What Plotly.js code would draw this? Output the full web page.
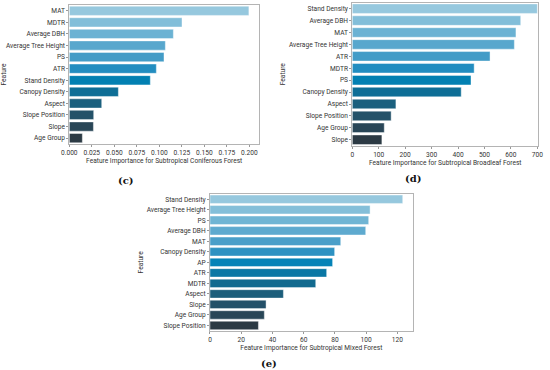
<!DOCTYPE html>
<html>
<head>
<meta charset="utf-8">
<script src="https://cdn.plot.ly/plotly-3.0.1.min.js"></script>
<style>html,body{margin:0;padding:0;background:#fff;}#chart{width:550px;height:370px;}</style>
</head>
<body>
<div id="chart"></div>
<script>
// Panel (c): Subtropical Coniferous Forest
const featuresC = ["MAT", "MDTR", "Average DBH", "Average Tree Height", "PS", "ATR", "Stand Density", "Canopy Density", "Aspect", "Slope Position", "Slope", "Age Group"];
const valuesC = [0.1995, 0.1252, 0.1156, 0.1067, 0.1052, 0.0967, 0.0900, 0.0545, 0.0360, 0.0271, 0.0268, 0.0145];

// Panel (d): Subtropical Broadleaf Forest
const featuresD = ["Stand Density", "Average DBH", "MAT", "Average Tree Height", "ATR", "MDTR", "PS", "Canopy Density", "Aspect", "Slope Position", "Age Group", "Slope"];
const valuesD = [700, 637, 619, 613, 521, 461, 449, 412, 165, 147, 121, 112];

// Panel (e): Subtropical Mixed Forest
const featuresE = ["Stand Density", "Average Tree Height", "PS", "Average DBH", "MAT", "Canopy Density", "AP", "ATR", "MDTR", "Aspect", "Slope", "Age Group", "Slope Position"];
const valuesE = [123.4, 102.5, 101.6, 99.7, 83.7, 79.8, 78.5, 74.7, 67.7, 47.0, 35.9, 34.8, 31.0];

const panelLabels = ["(c)", "(d)", "(e)"];
const xTitles = ["Feature Importance for Subtropical Coniferous Forest",
                 "Feature Importance for Subtropical Broadleaf Forest",
                 "Feature Importance for Subtropical Mixed Forest"];

const colors12 = ["#96c8de", "#82bed9", "#6bb2d3", "#58a7cd", "#439cc7", "#228dc0", "#0280b2", "#0e6e96", "#1b607e", "#245269", "#294657", "#2c3a44"];
const colors13 = ["#96c8de", "#84bfd9", "#70b5d4", "#5eaacf", "#4a9fc9", "#2e92c2", "#0583b7", "#0a77a4", "#126a8f", "#1c5e7b", "#245169", "#294657", "#2c3a44"];

const FONT = {family: "Roboto, Noto Sans, sans-serif", size: 6.6, color: "#333"};
const frame = "#b4b4b4";

function barTrace(feats, vals, cols, xa, ya) {
  return {
    type: "bar", orientation: "h", x: vals, y: feats, xaxis: xa, yaxis: ya,
    width: 0.8,
    marker: {color: cols, line: {color: "rgba(255,255,255,0.7)", width: 0.6}},
    hoverinfo: "x+y", showlegend: false
  };
}

const data = [
  barTrace(featuresC, valuesC, colors12, "x", "y"),
  barTrace(featuresD, valuesD, colors12, "x2", "y2"),
  barTrace(featuresE, valuesE, colors13, "x3", "y3")
];

function xa(domain, range, dtick, fmt, title, anchor) {
  return {
    domain: domain, range: range, anchor: anchor, dtick: dtick, tick0: 0, tickformat: fmt,
    showgrid: false, zeroline: false, showline: true, mirror: true, linecolor: frame, linewidth: 1,
    ticks: "outside", ticklen: 2, tickcolor: "#555", tickwidth: 0.6,
    tickfont: FONT, title: {text: title, font: FONT, standoff: 1}, automargin: false
  };
}
function ya(domain, anchor) {
  return {
    domain: domain, anchor: anchor, type: "category", autorange: "reversed",
    showgrid: false, zeroline: false, showline: true, mirror: true, linecolor: frame, linewidth: 1,
    ticks: "outside", ticklen: 2, tickcolor: "#555", tickwidth: 0.6,
    tickfont: FONT, title: {text: "Feature", font: FONT, standoff: 2}, automargin: false
  };
}

const layout = {
  width: 550, height: 370,
  margin: {l: 0, r: 0, t: 0, b: 0},
  paper_bgcolor: "#fff", plot_bgcolor: "#fff",
  font: FONT,
  bargap: 0.2,
  xaxis: xa([0.126, 0.471], [0, 0.2108], 0.025, ".3f", xTitles[0], "y"),
  yaxis: ya([0.611, 0.9865], "x"),
  xaxis2: xa([0.6405, 0.9787], [0, 703.5], 100, "d", xTitles[1], "y2"),
  yaxis2: ya([0.6062, 0.9927], "x2"),
  xaxis3: xa([0.3818, 0.7504], [0, 129.8], 20, "d", xTitles[2], "y3"),
  yaxis3: ya([0.1062, 0.4757], "x3"),
  annotations: [
    {text: panelLabels[0], x: 126 / 550, y: 1 - 180 / 370},
    {text: panelLabels[1], x: 413 / 550, y: 1 - 179 / 370},
    {text: panelLabels[2], x: 269 / 550, y: 1 - 363 / 370}
  ].map(a => Object.assign(a, {
    xref: "paper", yref: "paper", xanchor: "center", yanchor: "middle", showarrow: false,
    font: {family: "DejaVu Serif, Liberation Serif, serif", size: 10, color: "#111", weight: "bold"}
  }))
};

Plotly.newPlot("chart", data, layout, {staticPlot: true, displayModeBar: false});
</script>
</body>
</html>
